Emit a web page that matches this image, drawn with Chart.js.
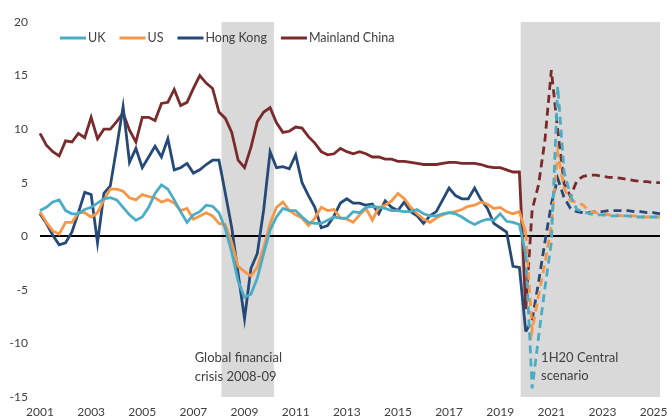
<!DOCTYPE html>
<html>
<head>
<meta charset="utf-8">
<script src="https://cdn.jsdelivr.net/npm/chart.js@4.4.1/dist/chart.umd.min.js"></script>
<style>
  html, body { margin: 0; padding: 0; background: #fff; }
  #wrap { width: 668px; height: 420px; }
</style>
</head>
<body>
<div id="wrap"><canvas id="gdpChart" width="668" height="420"></canvas></div>
<script>
// quarterly, 2001Q1 .. 2025Q2 (forecast from 2020Q1 on)
const quarters = [];
for (let yr = 2001; yr <= 2025; yr++) {
    for (let q = 1; q <= 4; q++) {
        if (yr === 2025 && q > 2) break;
        quarters.push(yr + 'Q' + q);
    }
}
const xTickLabels = ['2001', '2003', '2005', '2007', '2009', '2011', '2013', '2015', '2017', '2019', '2021', '2023', '2025'];
const forecastStart = 76; // index of 2020Q1, dashed after this

const ukGrowth = [
    2.4, 2.7, 3.2, 3.4, 2.4, 2.1, 2.1, 2.5, 2.7, 3.1, 3.5, 3.6, 3.4, 2.7, 2.0, 1.5, 1.8, 2.7, 4.0,
    4.8, 4.4, 3.4, 2.3, 1.3, 2.0, 2.3, 2.9, 2.8, 2.2, 0.7, -1.5, -4.2, -5.7, -5.4, -3.9, -1.6, 0.6, 1.8,
    2.6, 2.4, 2.4, 1.8, 1.3, 1.2, 1.2, 1.5, 1.8, 1.7, 1.7, 2.3, 2.2, 2.7, 2.8, 2.7, 2.6, 2.4,
    2.4, 2.3, 2.3, 2.5, 2.1, 1.9, 1.9, 2.1, 2.2, 2.1, 1.8, 1.4, 1.1, 1.4, 1.6, 1.5, 2.1, 1.4, 1.3, 1.1,
    -1.7,
    -14.2, -9.4, -4.8, -0.6, 14.0, 6.0, 3.8, 2.5, 2.3, 2.1, 2.0, 2.0, 1.9, 1.9, 1.9, 1.9, 1.8, 1.8, 1.8, 1.8, 1.8
];
const usGrowth = [
    2.3, 1.3, 0.5, 0.2, 1.3, 1.3, 2.2, 2.2, 1.8, 2.2, 3.4, 4.4, 4.4, 4.2, 3.6, 3.4, 3.9, 3.7, 3.6,
    3.2, 3.4, 3.1, 2.4, 2.6, 1.6, 1.9, 2.2, 1.9, 1.2, 1.1, -0.6, -2.8, -3.3, -3.7, -2.9, -1.0, 1.2, 2.7,
    3.2, 2.4, 2.0, 1.7, 1.0, 1.7, 2.7, 2.4, 2.5, 1.7, 1.6, 1.3, 2.0, 2.6, 1.5, 2.7, 2.9, 3.3,
    4.0, 3.5, 2.7, 2.1, 1.6, 1.3, 1.7, 2.0, 2.2, 2.3, 2.5, 2.8, 2.9, 3.2, 3.0, 2.6, 2.7, 2.3, 2.1, 2.3,
    0.3,
    -8.8, -5.5, -2.5, 1.0, 7.8, 4.5, 3.3, 3.2, 2.9, 2.3, 2.2, 2.1, 2.0, 2.0, 1.9, 1.9, 1.9, 1.8, 1.8, 1.8, 1.8
];
const hkGrowth = [
    2.1, 1.2, 0.1, -0.8, -0.6, 0.4, 2.2, 4.1, 3.9, -0.6, 4.0, 4.7, 8.3, 12.1, 6.9, 8.2, 6.4, 7.4, 8.4,
    7.4, 9.1, 6.2, 6.4, 6.8, 5.9, 6.2, 6.7, 7.1, 7.1, 4.0, 0.8, -3.5, -7.7, -3.0, -1.6, 2.5, 7.9, 6.4,
    6.5, 6.3, 7.6, 5.0, 3.8, 2.7, 0.8, 1.0, 1.9, 3.1, 3.5, 3.1, 3.1, 2.9, 3.0, 2.1, 3.3, 2.7,
    2.4, 3.2, 2.3, 1.9, 1.2, 1.9, 2.3, 3.4, 4.5, 3.8, 3.5, 3.5, 4.5, 3.4, 2.6, 1.2, 0.8, 0.4, -2.8, -2.9,
    -8.9,
    -7.8, -4.3, -0.5, 3.0, 5.4, 3.6, 2.6, 2.3, 2.2, 2.2, 2.3, 2.3, 2.4, 2.4, 2.4, 2.4, 2.3, 2.3, 2.2, 2.2, 2.1
];
const chinaGrowth = [
    9.6, 8.5, 7.9, 7.5, 8.9, 8.8, 9.6, 9.2, 11.1, 9.1, 10.0, 10.0, 10.7, 11.5, 9.9, 8.8, 11.1, 11.1, 10.8,
    12.4, 12.5, 13.7, 12.2, 12.5, 13.8, 15.0, 14.3, 13.8, 11.6, 11.0, 9.7, 7.1, 6.4, 8.3, 10.7, 11.6, 12.0, 10.6,
    9.7, 9.8, 10.2, 10.1, 9.3, 8.7, 7.9, 7.6, 7.7, 8.2, 7.9, 7.7, 7.9, 7.7, 7.4, 7.4, 7.2, 7.2,
    7.0, 7.0, 6.9, 6.8, 6.7, 6.7, 6.7, 6.8, 6.9, 6.9, 6.8, 6.8, 6.8, 6.7, 6.5, 6.4, 6.4, 6.2, 6.0, 6.0,
    -6.8,
    2.5, 4.8, 9.0, 15.5, 9.9, 4.9, 3.7, 5.2, 5.6, 5.7, 5.7, 5.6, 5.5, 5.5, 5.4, 5.3, 5.2, 5.1, 5.1, 5.0, 5.0
];

// shaded periods, in quarter-index units
const shadeSpans = [
    { from: 28.4, to: 36.6 },
    { from: 75.2, to: 97 }
];
const notes = [
    { x: 24.2, y: -11.35, lines: ['Global financial', 'crisis 2008-09'] },
    { x: 78.4, y: -11.3, lines: ['1H20 Central', 'scenario'] }
];

const textColor = '#404040';
Chart.defaults.font.family = 'Lato';
Chart.defaults.font.size = 12;
Chart.defaults.color = textColor;

function makeSeries(label, data, color) {
    return {
        label: label,
        data: data,
        borderColor: color,
        backgroundColor: color,
        borderWidth: 2.8,
        pointRadius: 0,
        tension: 0,
        fill: false,
        segment: {
            borderDash: c => c.p0DataIndex >= forecastStart ? [8, 5] : undefined
        }
    };
}

// grey bands and the two notes, under the gridline and the lines
const shadePlugin = {
    id: 'shades',
    beforeDraw(chart) {
        const { ctx, scales: { x, y } } = chart;
        ctx.save();
        ctx.fillStyle = '#d9d9d9';
        const yTop = y.getPixelForValue(y.max);
        const yBot = y.getPixelForValue(y.min);
        shadeSpans.forEach(s => {
            const x0 = x.getPixelForValue(s.from);
            const x1 = x.getPixelForValue(s.to);
            ctx.fillRect(x0, yTop, x1 - x0, yBot - yTop);
        });
        ctx.fillStyle = textColor;
        ctx.font = '13px Lato';
        ctx.textBaseline = 'middle';
        ctx.textAlign = 'left';
        notes.forEach(n => {
            const px = x.getPixelForValue(n.x);
            const py = y.getPixelForValue(n.y);
            n.lines.forEach((t, i) => ctx.fillText(t, px, py + i * 18.5));
        });
        ctx.restore();
    }
};

// legend sits inside the plot area, top left
const legendPlugin = {
    id: 'insideLegend',
    afterDraw(chart) {
        const ctx = chart.ctx;
        let x = 60;
        const y = 38;
        ctx.save();
        ctx.font = '12.5px Lato';
        ctx.textBaseline = 'middle';
        chart.data.datasets.forEach(ds => {
            ctx.strokeStyle = ds.borderColor;
            ctx.lineWidth = 3;
            ctx.beginPath();
            ctx.moveTo(x, y);
            ctx.lineTo(x + 26, y);
            ctx.stroke();
            ctx.fillStyle = textColor;
            ctx.fillText(ds.label, x + 28, y);
            x += 28 + ctx.measureText(ds.label).width + 14;
        });
        ctx.restore();
    }
};

const ctx = document.getElementById('gdpChart').getContext('2d');
window.gdpChart = new Chart(ctx, {
    type: 'line',
    data: {
        labels: quarters,
        datasets: [
            makeSeries('UK', ukGrowth, '#4bacc6'),
            makeSeries('US', usGrowth, '#f79646'),
            makeSeries('Hong Kong', hkGrowth, '#264a78'),
            makeSeries('Mainland China', chinaGrowth, '#7a2a2b')
        ]
    },
    options: {
        responsive: false,
        animation: false,
        events: [],
        layout: { padding: { top: 22, right: 4, left: 0, bottom: 0 } },
        plugins: {
            legend: { display: false },
            tooltip: { enabled: false }
        },
        scales: {
            x: {
                grid: { display: false, drawTicks: false },
                border: { display: false },
                ticks: {
                    autoSkip: false,
                    maxRotation: 0,
                    padding: 8,
                    callback: function (v) {
                        const lab = this.getLabelForValue(v);
                        const yr = lab.slice(0, 4);
                        return lab.endsWith('Q1') && xTickLabels.includes(yr) ? yr : '';
                    }
                },
                afterFit: s => { s.height = 23; }
            },
            y: {
                min: -15,
                max: 20,
                border: { display: false },
                grid: {
                    drawTicks: false,
                    color: c => c.tick.value === 0 ? '#000000' : 'rgba(0,0,0,0)',
                    lineWidth: 2
                },
                ticks: { stepSize: 5, padding: 12 },
                afterFit: s => { s.width = 40; }
            }
        }
    },
    plugins: [shadePlugin, legendPlugin]
});
</script>
</body>
</html>
